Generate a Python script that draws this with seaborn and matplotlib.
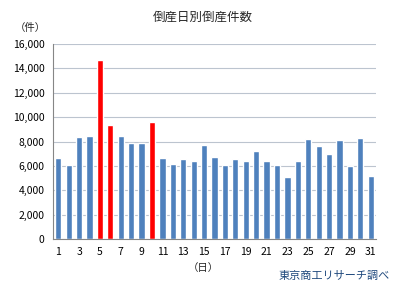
import matplotlib
matplotlib.use("Agg")
import matplotlib.pyplot as plt
import seaborn as sns
import pandas as pd

days = list(range(1, 32))
counts = [6650, 6080, 8370, 8450, 14690, 9350, 8450, 7880, 7880, 9600,
          6670, 6150, 6560, 6400, 7710, 6730, 6070, 6560, 6400, 7220,
          6400, 6070, 5090, 6400, 8200, 7630, 6970, 8120, 5990, 8290, 5170]
highlight_days = [5, 6, 10]
title = "倒産日別倒産件数"
y_unit = "（件）"
x_unit = "（日）"
source = "東京商工リサーチ調べ"
yticks = [0, 2000, 4000, 6000, 8000, 10000, 12000, 14000, 16000]

sns.set_theme(style="white")
plt.rcParams['font.family'] = ['Noto Sans CJK JP', 'DejaVu Sans']

df = pd.DataFrame({"day": [str(d) for d in days], "count": counts})
palette = {str(d): ("#FF0000" if d in highlight_days else "#4F81BD") for d in days}

fig = plt.figure(figsize=(4.05, 2.89), dpi=100)
ax = fig.add_axes([53/405, 1 - 239/289, (376-53)/405, (239-44)/289])
sns.barplot(data=df, x="day", y="count", hue="day", palette=palette,
            width=0.6, legend=False, ax=ax, saturation=1)

ax.set_ylim(0, 16000)
ax.set_xlim(-0.5, len(days) - 0.5)
ax.set_yticks(yticks)
ax.set_yticklabels([f"{v:,}" for v in yticks], fontsize=7.5)
ax.set_xticks(range(0, len(days), 2))
ax.set_xticklabels([str(d) for d in days[::2]], fontsize=7.5)
ax.tick_params(axis='both', length=0, pad=6, colors="#000000")
ax.yaxis.grid(True, color="#BCC4CF", linewidth=0.8)
ax.set_axisbelow(True)
for s in ["top", "right"]:
    ax.spines[s].set_visible(False)
ax.spines["left"].set_color("#868686")
ax.spines["bottom"].set_color("#868686")
ax.spines["left"].set_linewidth(0.8)
ax.spines["bottom"].set_linewidth(0.8)
ax.set_xlabel("")
ax.set_ylabel("")

fig.text(203/405, 1 - 17/289, title, ha="center", va="center", fontsize=9)
fig.text(30/405, 1 - 28/289, y_unit, ha="center", va="center", fontsize=7.5)
fig.text(203/405, 1 - 268/289, x_unit, ha="center", va="center", fontsize=7.5)
fig.text(390/405, 1 - 276/289, source, ha="right", va="center", fontsize=8, color="#1F497D")

fig.savefig("out.png", dpi=100)
